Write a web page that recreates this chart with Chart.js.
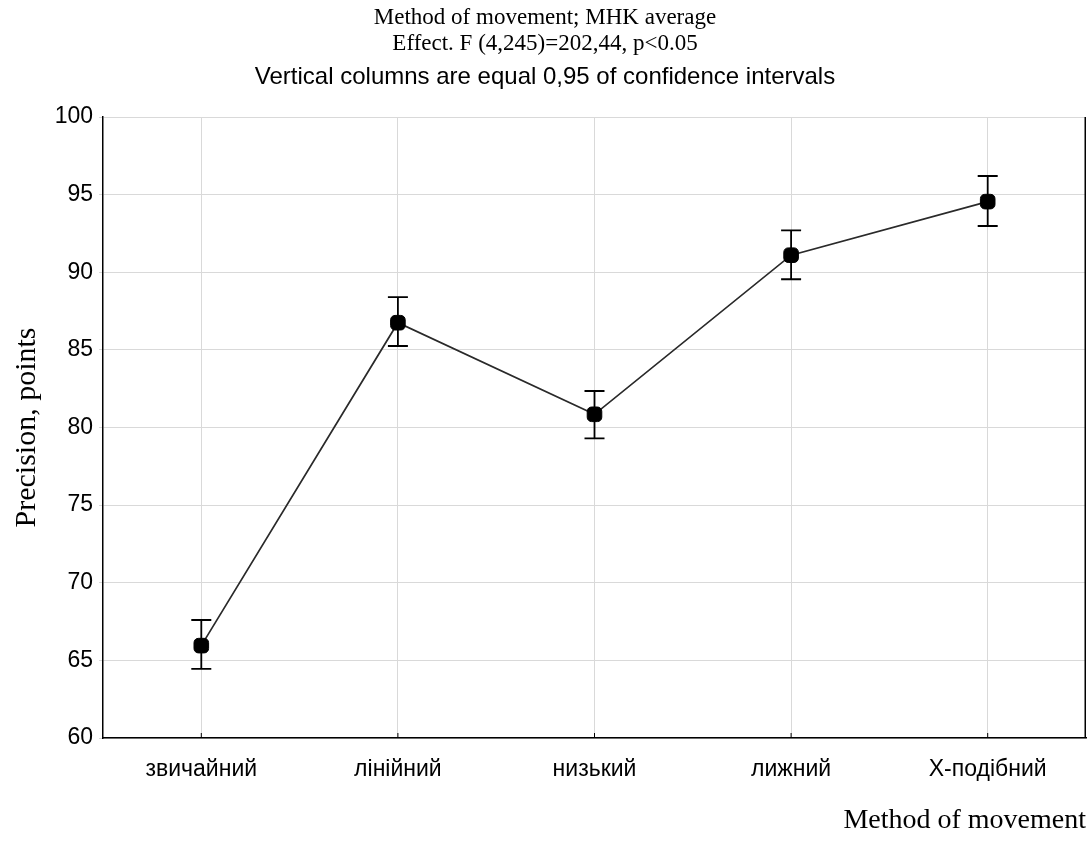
<!DOCTYPE html>
<html>
<head>
<meta charset="utf-8">
<script src="https://cdn.jsdelivr.net/npm/chart.js@4/dist/chart.umd.min.js"></script>
<style>
  html, body { margin: 0; padding: 0; background: #fff; overflow: hidden; }
  #wrap { width: 1087px; height: 859px; position: relative; }
</style>
</head>
<body>
<div id="wrap"><canvas id="chart"></canvas></div>
<script>
// categorias y valores
const categories = ["звичайний", "лінійний", "низький", "лижний", "X-подібний"];
const means = [65.95, 86.75, 80.85, 91.1, 94.55];
const lower = [64.45, 85.25, 79.3, 89.55, 92.98];
const upper = [67.6, 88.4, 82.35, 92.7, 96.2];
const yTicks = [60, 65, 70, 75, 80, 85, 90, 95, 100];

const titleLines = [
  { text: "Method of movement; MHK average", font: "23px 'Liberation Serif'", y: 18 },
  { text: "Effect. F (4,245)=202,44, p<0.05", font: "23px 'Liberation Serif'", y: 44 },
  { text: "Vertical columns are equal 0,95 of confidence intervals", font: "24px 'Liberation Sans'", y: 77 }
];

// titulos, barras de error y borde derecho
const extras = {
  id: "extras",
  beforeDatasetsDraw(chart) {
    const { ctx, chartArea } = chart;
    const x = chart.scales.x, y = chart.scales.y;
    ctx.save();
    ctx.strokeStyle = "#000";
    categories.forEach((c, i) => {
      const px = x.getPixelForValue(i);
      const yTop = y.getPixelForValue(upper[i]);
      const yBot = y.getPixelForValue(lower[i]);
      ctx.lineWidth = 1.8;
      ctx.beginPath();
      ctx.moveTo(px, yTop); ctx.lineTo(px, yBot);
      ctx.moveTo(px - 10, yTop); ctx.lineTo(px + 10, yTop);
      ctx.moveTo(px - 10, yBot); ctx.lineTo(px + 10, yBot);
      ctx.stroke();
      // marca interior del eje x
      ctx.lineWidth = 1;
      ctx.beginPath();
      ctx.moveTo(px, chartArea.bottom); ctx.lineTo(px, chartArea.bottom - 5);
      ctx.stroke();
    });
    ctx.lineWidth = 1.5;
    ctx.beginPath();
    ctx.moveTo(chartArea.right - 0.75, chartArea.top);
    ctx.lineTo(chartArea.right - 0.75, chartArea.bottom);
    ctx.stroke();
    ctx.restore();
  },
  afterDraw(chart) {
    const { ctx } = chart;
    ctx.save();
    ctx.fillStyle = "#000";
    ctx.textAlign = "center";
    ctx.textBaseline = "middle";
    titleLines.forEach(l => {
      ctx.font = l.font;
      ctx.fillText(l.text, 545, l.y);
    });
    ctx.restore();
  }
};

new Chart(document.getElementById("chart"), {
  type: "line",
  data: {
    labels: categories,
    datasets: [
      {
        data: means,
        borderColor: "#2a2a2a",
        borderWidth: 1.7,
        pointStyle: "rectRounded",
        pointRadius: 8.5,
        pointHoverRadius: 8.5,
        pointBackgroundColor: "#000",
        pointBorderColor: "#000",
        pointBorderWidth: 1,
        tension: 0
      }
    ]
  },
  options: {
    responsive: true,
    maintainAspectRatio: false,
    animation: false,
    layout: { autoPadding: false, padding: { top: 117, left: 0, right: 1, bottom: 0 } },
    plugins: {
      legend: { display: false },
      tooltip: { enabled: false }
    },
    scales: {
      x: {
        offset: true,
        grid: { color: "#d9d9d9", drawTicks: false, offset: false },
        border: { color: "#000", width: 1.5 },
        ticks: { color: "#000", font: { family: "'Liberation Sans'", size: 23 }, padding: 18, maxRotation: 0 },
        title: {
          display: true,
          text: "Method of movement",
          align: "end",
          color: "#000",
          font: { family: "'Liberation Serif'", size: 28 },
          padding: { top: 0, bottom: 22 }
        },
        afterFit: s => { s.height = 121; s.paddingLeft = 0; s.paddingRight = 0; }
      },
      y: {
        min: 60,
        max: 100,
        afterBuildTicks: s => { s.ticks = yTicks.map(v => ({ value: v })); },
        grid: { color: "#d9d9d9", tickLength: 4 },
        border: { color: "#000", width: 1.5 },
        ticks: { color: "#000", font: { family: "'Liberation Sans'", size: 23 }, padding: 6 },
        title: {
          display: true,
          text: "Precision, points",
          color: "#000",
          font: { family: "'Liberation Serif'", size: 30 },
          padding: { top: 9, bottom: 0 }
        },
        afterFit: s => { s.width = 103; s.paddingTop = 0; s.paddingBottom = 0; }
      }
    }
  },
  plugins: [extras]
});
</script>
</body>
</html>
